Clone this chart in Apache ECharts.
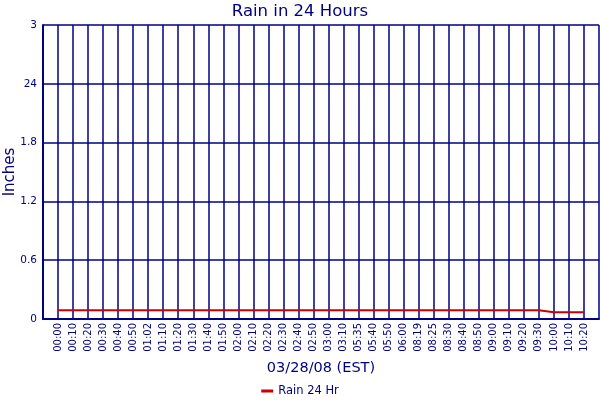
<!DOCTYPE html>
<html>
<head>
<meta charset="utf-8">
<script src="https://cdn.jsdelivr.net/npm/echarts@6/dist/echarts.min.js"></script>
<style>
  html, body { margin: 0; padding: 0; background: #fff; }
  #chart { width: 600px; height: 400px; }
</style>
</head>
<body>
<div id="chart"></div>
<script>
// time labels along the bottom (empty slots at both ends give the padding)
const timeLabels = ['00:00', '00:10', '00:20', '00:30', '00:40', '00:50', '01:02', '01:10', '01:20',
    '01:30', '01:40', '01:50', '02:00', '02:10', '02:20', '02:30', '02:40', '02:50', '03:00', '03:10',
    '05:35', '05:40', '05:50', '06:00', '08:19', '08:25', '08:30', '08:40', '08:50', '09:00', '09:10',
    '09:20', '09:30', '10:00', '10:10', '10:20'];

// rain in inches, one per time label
const rainValues = [0.09, 0.09, 0.09, 0.09, 0.09, 0.09, 0.09, 0.09, 0.09, 0.09, 0.09, 0.09,
    0.09, 0.09, 0.09, 0.09, 0.09, 0.09, 0.09, 0.09, 0.09, 0.09, 0.09, 0.09, 0.09, 0.09, 0.09,
    0.09, 0.09, 0.09, 0.09, 0.09, 0.09, 0.07, 0.07, 0.07];

// y tick labels as printed on the original
const yTickValues = [0, 0.6, 1.2, 1.8, 2.4, 3];
const yTickLabels = ['0', '0.6', '1.2', '1.8', '24', '3'];

function initRainChart() {
    const chart = echarts.init(document.getElementById('chart'));
    const navy = '#000080';
    const font = 'DejaVu Sans, Verdana, sans-serif';

    const categories = [''].concat(timeLabels, ['']);
    const seriesData = [null].concat(rainValues, [null]);

    const option = {
        backgroundColor: '#fff',
        animation: false,
        title: {
            text: 'Rain in 24 Hours',
            left: 'center',
            top: -2,
            textStyle: { color: navy, fontFamily: font, fontSize: 16.5, fontWeight: 'normal' }
        },
        legend: {
            bottom: -2,
            left: 'center',
            icon: 'rect',
            itemWidth: 12,
            itemHeight: 3,
            itemGap: 4,
            textStyle: { color: navy, fontFamily: font, fontSize: 11.5 },
            data: ['Rain 24 Hr']
        },
        grid: { left: 43, right: 1, top: 25, bottom: 81, outerBoundsMode: 'none', containLabel: false },
        xAxis: {
            type: 'category',
            data: categories,
            boundaryGap: false,
            name: '03/28/08 (EST)',
            nameLocation: 'middle',
            nameGap: 42,
            nameMoveOverlap: false,
            nameTextStyle: { color: navy, fontFamily: font, fontSize: 14.5 },
            axisLine: { lineStyle: { color: navy, width: 2 } },
            axisTick: { show: false },
            axisLabel: {
                interval: 0,
                rotate: 90,
                margin: 4,
                color: navy,
                fontFamily: font,
                fontSize: 10
            },
            splitLine: { show: true, interval: 0, lineStyle: { color: navy, width: 1.5 } }
        },
        yAxis: {
            type: 'value',
            min: 0,
            max: 3,
            interval: 0.6,
            name: 'Inches',
            nameLocation: 'middle',
            nameGap: 25,
            nameMoveOverlap: false,
            nameTextStyle: { color: navy, fontFamily: font, fontSize: 15 },
            axisLine: { show: true, lineStyle: { color: navy, width: 2 } },
            axisTick: { show: false },
            axisLabel: {
                color: navy,
                fontFamily: font,
                fontSize: 10.5,
                margin: 6,
                formatter: function (v) {
                    for (let i = 0; i < yTickValues.length; i++) {
                        if (Math.abs(yTickValues[i] - v) < 1e-6) return yTickLabels[i];
                    }
                    return '';
                }
            },
            splitLine: { show: true, lineStyle: { color: navy, width: 1.5 } }
        },
        series: [{
            name: 'Rain 24 Hr',
            type: 'line',
            data: seriesData,
            symbol: 'none',
            color: '#cc0000',
            lineStyle: { color: '#cc0000', width: 2 }
        }]
    };

    chart.setOption(option);
}

window.onload = function () {
    initRainChart();
};
</script>
</body>
</html>
